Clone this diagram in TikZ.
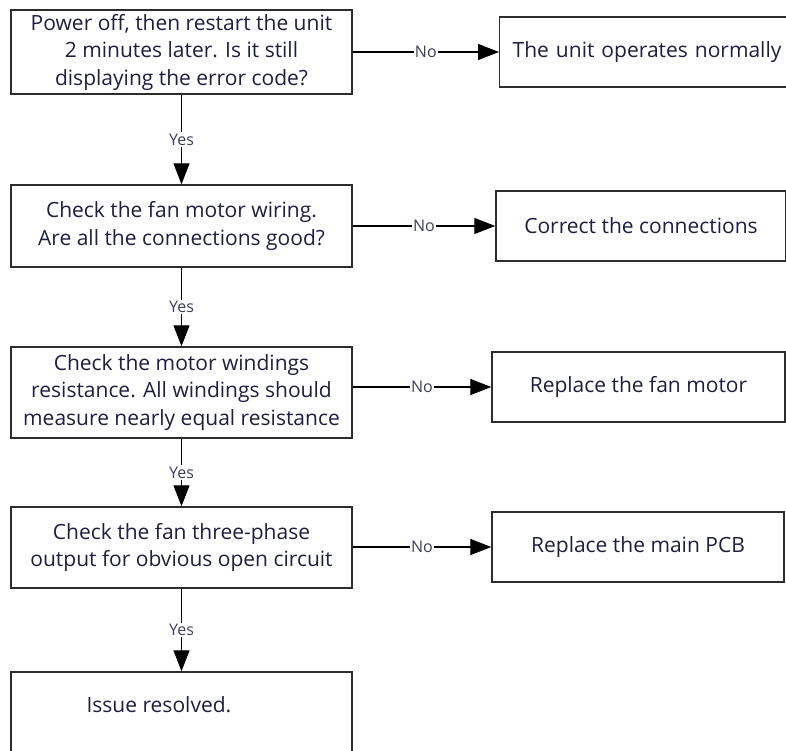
\documentclass[tikz,border=0pt]{standalone}
\usepackage{fontspec}
\setmainfont{Open Sans}
\usetikzlibrary{arrows.meta,positioning,calc}
\definecolor{textcol}{RGB}{30,30,66}
\definecolor{labelcol}{RGB}{60,62,92}
\definecolor{framecol}{RGB}{45,45,45}
\tikzset{
    box/.style={draw=framecol,line width=1.4pt,text=textcol,align=center,inner xsep=3pt,inner ysep=0pt,font=\fontsize{21}{27.5}\selectfont},
    leftbox/.style={box,minimum width=341pt},
    rightbox/.style={box,minimum height=70pt},
    arr/.style={-{Triangle[length=21pt,width=16pt]},line width=1.1pt},
    branch/.style={fill=white,text=labelcol,inner sep=1.5pt,font=\fontsize{16}{16}\selectfont},
}

\begin{document}
\begin{tikzpicture}[x=1pt,y=-1pt]
        \useasboundingbox (0,0) rectangle (786,751);

        % checks down the left
        \node[leftbox,minimum height=84pt] (q1) at (181.5,52) {Power off, then restart the unit\\2 minutes later. Is it still\\displaying the error code?};
        \node[leftbox,minimum height=82pt] (q2) at (181.5,226) {Check the fan motor wiring.\\Are all the connections good?};
        \node[leftbox,minimum height=91pt] (q3) at (181.5,392.5) {Check the motor windings\\resistance. All windings should\\measure nearly equal resistance};
        \node[leftbox,minimum height=81pt] (q4) at (181.5,547.5) {Check the fan three-phase\\output for obvious open circuit};
        \node[leftbox,minimum height=110pt] (q5) at (181.5,727) {};
        \node[text=textcol,font=\fontsize{21}{27.5}\selectfont,anchor=base west] (done) at (83,712) {Issue resolved.};

        % outcomes on the right
        \node[rightbox,anchor=west,align=left,text width=290pt,inner xsep=13pt] (r1) at (499,52) {The unit operates normally};
        \node[rightbox,minimum width=290pt] (r2) at (641,226) {Correct the connections};
        \node[rightbox,minimum width=293pt] (r3) at (638.5,387) {Replace the fan motor};
        \node[rightbox,minimum width=292pt] (r4) at (638,547) {Replace the main PCB};

        \foreach \a/\b in {q1/q2,q2/q3,q3/q4,q4/q5}
            \draw[arr] (\a) -- node[branch] {Yes} (\b);
        \foreach \a/\b in {q1/r1,q2/r2,q3/r3,q4/r4}
            \draw[arr] (\a.east |- \b.west) -- node[branch,inner xsep=1pt] {No} (\b.west);
    \end{tikzpicture}
\end{document}
